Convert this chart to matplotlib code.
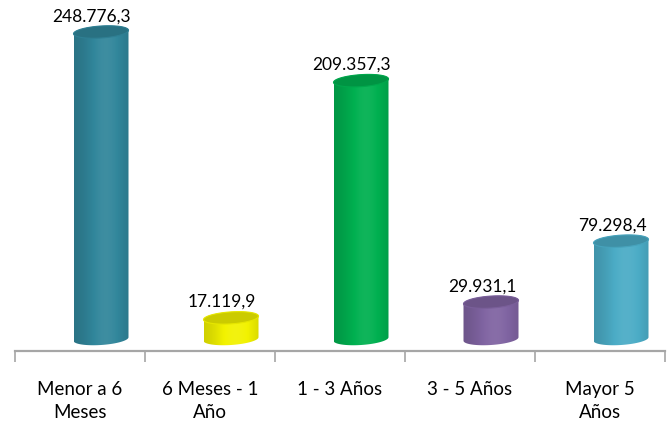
import numpy as np
import matplotlib
matplotlib.use("Agg")
import matplotlib.pyplot as plt
from matplotlib.patches import Polygon
from matplotlib.colors import to_rgb

categories = ["Menor a 6\nMeses", "6 Meses - 1\nAño", "1 - 3 Años", "3 - 5 Años", "Mayor 5\nAños"]
values = [248776.3, 17119.9, 209357.3, 29931.1, 79298.4]
labels = ["248.776,3", "17.119,9", "209.357,3", "29.931,1", "79.298,4"]
colors = ["#31869b", "#f2f200", "#00b050", "#8064a2", "#4bacc6"]

plt.rcParams['font.family'] = ['Lato', 'DejaVu Sans']

W, H = 671, 427
fig = plt.figure(figsize=(W / 100, H / 100), dpi=100)
ax_left, ax_right, ax_top, ax_bot = 15, 665, 0, 352
ax = fig.add_axes([ax_left / W, (H - ax_bot) / H, (ax_right - ax_left) / W, (ax_bot - ax_top) / H])

n = len(values)
px_x = n / (ax_right - ax_left)          # data units per pixel in x
px_y = 248776.3 / 307.0                  # data units per pixel in y
ymin = -12 * px_y
ymax = ymin + (ax_bot - ax_top) * px_y
ax.set_xlim(-0.5, n - 0.5)
ax.set_ylim(ymin, ymax)

offset = 21 * px_x
bw = 55 * px_x
bars = ax.bar(np.arange(n) + offset, values, width=bw, color="none", edgecolor="none")

a = bw / 2
b = 6 * px_y
shear = -3.5 / 55 * px_y / px_x  # y rise per x (higher on right)

def shade(c, f):
    r = np.array(to_rgb(c))
    if f >= 1:
        return np.clip(r + (1 - r) * (f - 1), 0, 1)
    return r * f

t = np.linspace(0, 2 * np.pi, 100)
for i, (rect, c) in enumerate(zip(bars, colors)):
    cx = rect.get_x() + rect.get_width() / 2
    top = rect.get_height()
    tb = np.linspace(np.pi, 2 * np.pi, 60)  # bottom front half
    xb = cx + a * np.cos(tb)
    yb = 0 + b * np.sin(tb) - shear * (xb - cx)
    tt = np.linspace(0, np.pi, 60)
    xt = cx + a * np.cos(tt)
    yt = top + b * np.sin(tt) - shear * (xt - cx)
    body = np.vstack([np.column_stack([xb, yb]), np.column_stack([xt, yt])])
    clip = Polygon(body, closed=True, facecolor="none", edgecolor="none")
    ax.add_patch(clip)
    u = np.linspace(0, 1, 200)
    f = 0.84 + 0.22 * np.exp(-((u - 0.58) / 0.38) ** 2)
    img = np.array([[shade(c, fi) for fi in f]])
    im = ax.imshow(img, extent=[cx - a, cx + a, ymin, ymax], aspect="auto",
                   interpolation="bilinear", zorder=2)
    im.set_clip_path(clip)
    xe = cx + a * np.cos(t)
    ye = top + b * np.sin(t) - shear * (xe - cx)
    ax.add_patch(Polygon(np.column_stack([xe, ye]), closed=True,
                         facecolor=shade(c, 0.84), edgecolor=shade(c, 0.95), lw=0.8, zorder=3))
    ax.annotate(labels[i], (cx - 9 * px_x, top + b), xytext=(0, 2), textcoords="offset points",
                ha="center", va="bottom", fontsize=12.5, color="#000000", zorder=4)

ax.set_xticks(np.arange(-0.5, n, 1.0))
ax.set_xticklabels([])
ax.tick_params(axis="x", which="major", length=8, width=1.2, color="#a6a6a6", direction="out")
for i, cat in enumerate(categories):
    ax.annotate(cat, (i, 0), xycoords=ax.get_xaxis_transform(), xytext=(0, -21),
                textcoords="offset points", ha="center", va="top", fontsize=13.5,
                linespacing=1.45, annotation_clip=False)
ax.set_yticks([])
for s in ["left", "right", "top"]:
    ax.spines[s].set_visible(False)
ax.spines["bottom"].set_color("#a6a6a6")
ax.spines["bottom"].set_linewidth(1.6)
ax.spines["bottom"].set_position(("data", ymin))
ax.patch.set_alpha(0)

fig.savefig("out.png", dpi=100)
